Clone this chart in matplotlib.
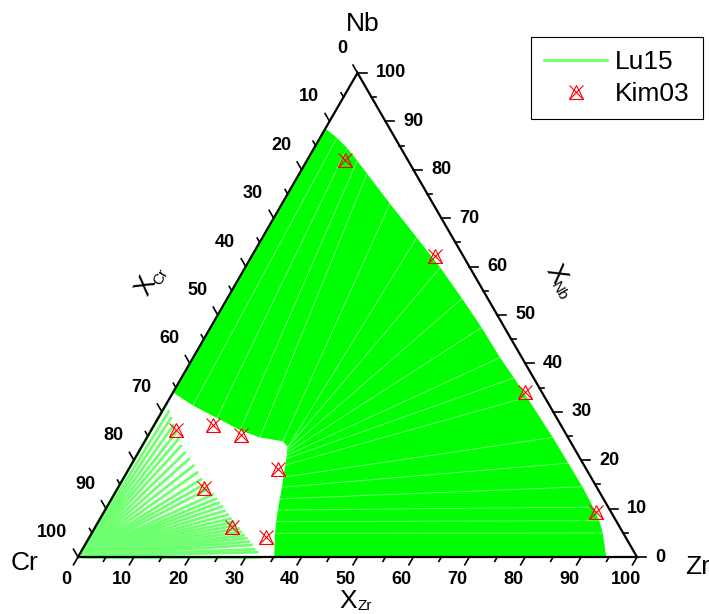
import numpy as np
import matplotlib
matplotlib.use('Agg')
import matplotlib.pyplot as plt
from matplotlib.lines import Line2D
from matplotlib.legend_handler import HandlerTuple

plt.rcParams['font.family'] = ['Liberation Sans', 'DejaVu Sans']

# ---------------- data (at.% Zr, at.% Nb; Cr = balance) ----------------
# Lu15: tie-lines Laves + bcc(Nb,Zr)
big_laves_zr = [0.0, 4.9, 10.5, 15.9, 20.2, 24.7, 26.2, 26.2, 26.4, 26.6, 26.9, 27.1, 27.6, 28.5, 29.3, 30.1, 30.9, 31.8, 32.8, 35.1]
big_laves_nb = [34.0, 31.3, 28.7, 26.2, 24.7, 23.9, 22.7, 22.5, 22.0, 21.5, 21.0, 20.3, 19.0, 16.5, 14.4, 12.0, 9.7, 7.3, 4.9, 0.0]
big_bcc_zr = [0.0, 3.0, 5.9, 9.0, 12.1, 19.3, 27.6, 34.9, 42.0, 48.5, 54.9, 59.5, 63.8, 72.6, 78.0, 83.0, 87.0, 89.5, 91.4, 94.5]
big_bcc_nb = [88.5, 86.6, 84.5, 81.9, 79.2, 73.0, 66.0, 59.8, 53.4, 47.4, 41.2, 37.0, 33.0, 24.7, 19.4, 14.5, 10.3, 7.5, 4.95, 0.0]

# Lu15: tie-lines (Cr) + Laves
cr_laves_zr = [0.0, 1.2, 2.3, 3.5, 4.7, 5.8, 7.0, 8.4, 9.8, 11.3, 12.7, 14.1, 15.3, 16.4, 17.8, 18.8,
               19.7, 20.7, 21.6, 22.6, 23.5, 24.4, 25.1, 26.0, 26.8, 27.6, 28.4, 29.2, 30.0, 31.0, 31.8, 32.6]
cr_laves_nb = [32.0, 30.3, 28.9, 27.4, 25.8, 24.5, 23.1, 21.7, 20.4, 19.0, 17.6, 16.2, 15.2, 14.2, 13.0, 12.1,
               11.3, 10.5, 9.6, 8.8, 8.0, 7.3, 6.6, 5.9, 5.2, 4.5, 3.9, 3.2, 2.5, 1.6, 1.0, 0.0]
cr_bcc_zr = [0.0, 0.2, 0.3, 0.3, 0.3, 0.3, 0.3, 0.3, 0.3, 0.3, 0.3, 0.3, 0.3, 0.3, 0.3, 0.3,
             0.3, 0.3, 0.3, 0.3, 0.3, 0.3, 0.3, 0.3, 0.3, 0.3, 0.3, 0.4, 0.5, 0.6, 0.7, 0.8]
cr_bcc_nb = [1.2, 0.9, 0.7, 0.6, 0.6, 0.6, 0.6, 0.6, 0.6, 0.6, 0.6, 0.6, 0.6, 0.6, 0.6, 0.6,
             0.6, 0.6, 0.6, 0.6, 0.6, 0.6, 0.6, 0.6, 0.6, 0.6, 0.5, 0.4, 0.3, 0.2, 0.1, 0.0]

# Kim03 experimental points
kim_zr = [6.7, 32.8, 63.0, 88.0, 4.4, 10.5, 16.6, 26.7, 15.4, 24.5, 31.6]
kim_nb = [82.1, 62.1, 34.0, 9.3, 26.2, 27.2, 25.2, 18.1, 14.2, 6.2, 4.1]

tick_values = list(range(0, 101, 5))
label_values = list(range(0, 101, 10))

# ---------------- helpers ----------------
S3 = np.sqrt(3) / 2
PX = 1 / 559.0  # one pixel in data units


def tern(zr, nb):
    zr = np.asarray(zr, float) / 100.0
    nb = np.asarray(nb, float) / 100.0
    return zr + nb / 2, nb * S3


def pix(x, y):
    return (x - 78) * PX, (557 - y) * PX


fig = plt.figure(figsize=(7.09, 6.14), dpi=100)
ax = fig.add_axes([0, 0, 1, 1])
ax.set_xlim(-78 * PX, 631 * PX)
ax.set_ylim(-57 * PX, 557 * PX)
ax.axis('off')

GREEN = '#00ff00'
LIGHT = '#70ff70'

# big two-phase region
Lx, Ly = tern(big_laves_zr, big_laves_nb)
Sx, Sy = tern(big_bcc_zr, big_bcc_nb)
ax.fill(np.r_[Lx, Sx[::-1]], np.r_[Ly, Sy[::-1]], color=GREEN, lw=0, zorder=1)
for i in range(len(Lx)):
    ax.plot([Lx[i], Sx[i]], [Ly[i], Sy[i]], color='#80ff80', lw=0.6, zorder=2)

# Cr + Laves region
Cx, Cy = tern(cr_bcc_zr, cr_bcc_nb)
Vx, Vy = tern(cr_laves_zr, cr_laves_nb)
for i in range(len(Cx)):
    ax.plot([Cx[i], Vx[i]], [Cy[i], Vy[i]], color=LIGHT, lw=2.0,
            solid_capstyle='butt', zorder=2)

# triangle frame
cx, cy = tern([0, 100, 0, 0], [0, 0, 100, 0])
ax.plot(cx, cy, color='black', lw=1.6, zorder=5, solid_joinstyle='miter')

# ticks and labels
for v in tick_values:
    major = (v % 10 == 0)
    L = (9 if major else 5) * PX
    bx, by = tern(v, 0)
    ax.plot([bx, bx - 0.5 * L], [by, by - S3 * L], color='black', lw=1.2, zorder=5)
    lx, ly = tern(0, 100 - v)
    ax.plot([lx, lx - 0.5 * L], [ly, ly + S3 * L], color='black', lw=1.2, zorder=5)
    rx, ry = tern(100 - v, v)
    ax.plot([rx, rx + L], [ry, ry], color='black', lw=1.2, zorder=5)

for v in label_values:
    bx, by = tern(v, 0)
    ax.text(bx - 11.5 * PX, by - 22 * PX, str(v), ha='center', va='center',
            fontsize=13, fontweight='bold')
    lx, ly = tern(0, 100 - v)
    ax.text(lx - 10.5 * PX, ly + 24.5 * PX, str(v), ha='right', va='center',
            fontsize=13, fontweight='bold')
    rx, ry = tern(100 - v, v)
    ax.text(rx + 18 * PX, ry, str(v), ha='left', va='center',
            fontsize=13, fontweight='bold')

# corner names
ax.text(*pix(363, 24), 'Nb', ha='center', va='center', fontsize=19)
ax.text(*pix(24, 563), 'Cr', ha='center', va='center', fontsize=19)
ax.text(*pix(685, 567), 'Zr', ha='left', va='center', fontsize=19)

# axis titles: large X with small subscript
ax.text(*pix(348.5, 601), 'X', ha='center', va='center', fontsize=19)
ax.text(*pix(365, 606), 'Zr', ha='center', va='center', fontsize=11)
ax.text(*pix(146, 286), 'X', ha='center', va='center', fontsize=19,
        rotation=60, rotation_mode='anchor')
ax.text(*pix(161, 277), 'Cr', ha='center', va='center', fontsize=11,
        rotation=60, rotation_mode='anchor')
ax.text(*pix(555.5, 274.5), 'X', ha='center', va='center', fontsize=19,
        rotation=-60, rotation_mode='anchor')
ax.text(*pix(559, 291), 'Nb', ha='center', va='center', fontsize=11,
        rotation=-60, rotation_mode='anchor')

# Kim03 points
kx, ky = tern(kim_zr, kim_nb)
ax.plot(kx, ky, ls='none', marker='^', ms=10, mfc='none', mec='red', mew=0.8, zorder=6)
ax.plot(kx, ky, ls='none', marker='x', ms=10, mec='red', mew=0.8, zorder=6)

# legend
h1 = Line2D([], [], color=LIGHT, lw=2)
tri = Line2D([], [], ls='none', marker='^', ms=10, mfc='none', mec='red', mew=0.8)
xx = Line2D([], [], ls='none', marker='x', ms=10, mec='red', mew=0.8)
leg = fig.legend([h1, (tri, xx)], ['Lu15', 'Kim03'],
                 handler_map={tuple: HandlerTuple(ndivide=1, pad=0)},
                 loc='upper right', bbox_to_anchor=(703 / 709, 1 - 37 / 614),
                 fontsize=19, frameon=True, fancybox=False, edgecolor='black',
                 framealpha=1, borderaxespad=0, handlelength=2.4,
                 handletextpad=0.3, labelspacing=0.3, borderpad=0.5)
leg.get_frame().set_linewidth(0.8)

fig.savefig('out.png', dpi=100)
